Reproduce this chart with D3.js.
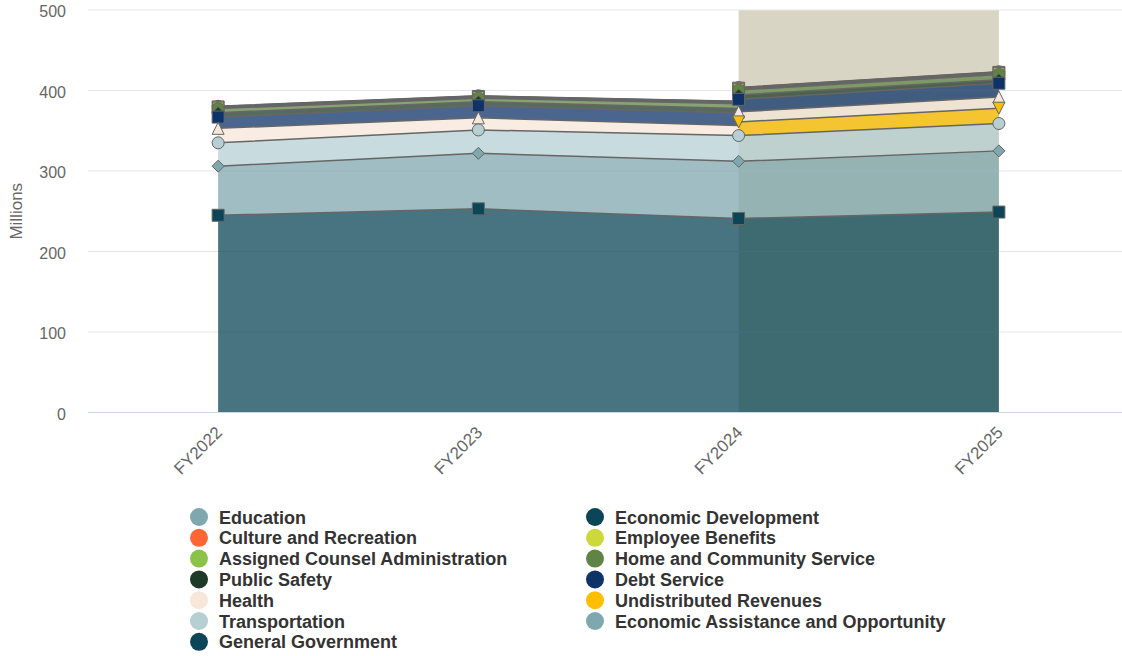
<!DOCTYPE html>
<html>
<head>
<meta charset="utf-8">
<script src="https://cdn.jsdelivr.net/npm/d3@7"></script>
<style>
  body { margin: 0; background: #ffffff; }
  svg { display: block; font-family: "Liberation Sans", Arial, Helvetica, sans-serif; }
</style>
</head>
<body>
<svg id="chart" width="1122" height="656"></svg>
<script>
// Fiscal years on the category axis
const years = ["FY2022", "FY2023", "FY2024", "FY2025"];

// Appropriations by function, millions of dollars (null = no budget line that year)
const education            = [0.3, 0.3, 0.3, 0.3];
const economicDevelopment  = [0.5, 0.5, 0.5, 0.5];
const cultureRecreation    = [1.0, 1.0, 1.2, 1.2];
const employeeBenefits     = [0.3, 0.3, 0.3, 0.3];
const assignedCounsel      = [0.8, 0.8, 0.9, 1.0];
const homeCommunity        = [5.0, 4.5, 6.0, 6.5];
const publicSafety         = [5.5, 5.0, 5.5, 4.5];
const debtService          = [14, 15, 15.5, 17];
const health               = [18, 15, 12.5, 14];
const undistributedRevenue = [null, null, 17, 19];
const transportation       = [29, 29, 32, 34];
const economicAssistance   = [61, 69, 71, 76];
const generalGovernment    = [245, 253, 241, 249];

const seriesNames = [
  "Education", "Economic Development", "Culture and Recreation", "Employee Benefits",
  "Assigned Counsel Administration", "Home and Community Service", "Public Safety",
  "Debt Service", "Health", "Undistributed Revenues", "Transportation",
  "Economic Assistance and Opportunity", "General Government"
];
const seriesValues = [
  education, economicDevelopment, cultureRecreation, employeeBenefits,
  assignedCounsel, homeCommunity, publicSafety, debtService, health,
  undistributedRevenue, transportation, economicAssistance, generalGovernment
];
const seriesColors = [
  "#7fa7ae", "#0b4557", "#ff6633", "#cdd83a", "#8bc34a", "#5f8445", "#1f3a27",
  "#0d3368", "#f7e7d9", "#ffbf00", "#b5cfd3", "#7fa7ae", "#0b4557"
];
const markerSymbols = ["circle", "diamond", "square", "triangle", "triangle-down"];

const yTicks = [0, 100, 200, 300, 400, 500];
const projectedRange = ["FY2024", "FY2025"];

// ---- layout ----
const svg = d3.select("#chart");
const plotLeft = 88, plotRight = 1122, plotTop = 10, plotBottom = 412.5;

const x = d3.scalePoint().domain(years).range([plotLeft, 1129]).padding(0.5);
const y = d3.scaleLinear().domain([0, 500]).range([plotBottom, plotTop]);

// projected-years band
svg.append("rect")
  .attr("x", x(projectedRange[0]))
  .attr("y", plotTop)
  .attr("width", x(projectedRange[1]) - x(projectedRange[0]))
  .attr("height", plotBottom - plotTop)
  .attr("fill", "#d8d5c4");

// horizontal grid
svg.append("g").selectAll("line").data(yTicks.filter(d => d > 0)).join("line")
  .attr("x1", plotLeft).attr("x2", plotRight)
  .attr("y1", d => y(d)).attr("y2", d => y(d))
  .attr("stroke", "#e6e6e6").attr("stroke-width", 1);

// ---- stacking (first series on top), with cliffs where a lower series is missing ----
const n = seriesValues.length;
const stackOrder = d3.range(n - 1, -1, -1); // bottom -> top
const base = seriesValues.map(() => years.map(() => 0));
const topV = seriesValues.map(() => years.map(() => 0));
years.forEach((yr, j) => {
  let cum = 0;
  stackOrder.forEach(s => {
    const v = seriesValues[s][j];
    base[s][j] = cum;
    if (v !== null) cum += v;
    topV[s][j] = cum;
  });
});

function cliffFor(s, j, k) {
  // sum of lower series present at j but missing at neighbour k
  let c = 0;
  const pos = stackOrder.indexOf(s);
  for (let p = 0; p < pos; p++) {
    const t = stackOrder[p];
    if (seriesValues[t][j] !== null && seriesValues[t][k] === null) c -= seriesValues[t][j];
  }
  return c;
}

function edgePoint(s, j, k, px, topPts, botPts) {
  if (k < 0 || k >= years.length) return;
  const isNull = seriesValues[s][k] === null;
  const cliff = cliffFor(s, j, k);
  if (isNull || cliff) {
    topPts.push({ x: px, v: (isNull ? base[s][j] : topV[s][j]) + cliff, gap: isNull });
    botPts.push({ x: px, v: base[s][j] + cliff });
  }
}

const layers = seriesValues.map((vals, s) => {
  const topPts = [], botPts = [];
  years.forEach((yr, j) => {
    if (vals[j] === null) return;
    const px = x(yr);
    edgePoint(s, j, j - 1, px, topPts, botPts);
    topPts.push({ x: px, v: topV[s][j], gap: false, real: true });
    botPts.push({ x: px, v: base[s][j] });
    edgePoint(s, j, j + 1, px, topPts, botPts);
  });
  return { s, topPts, botPts };
});

const areaGroup = svg.append("g");
layers.forEach(L => {
  const poly = L.topPts.map(p => [p.x, y(p.v)])
    .concat(L.botPts.slice().reverse().map(p => [p.x, y(p.v)]));
  areaGroup.append("path")
    .attr("d", d3.line()(poly) + "Z")
    .attr("fill", seriesColors[L.s])
    .attr("fill-opacity", 0.75)
    .attr("stroke", "none");
  const linePts = L.topPts.filter(p => !p.gap).map(p => [p.x, y(p.v)]);
  areaGroup.append("path")
    .attr("d", d3.line()(linePts))
    .attr("fill", "none")
    .attr("stroke", "#666666")
    .attr("stroke-width", 1.5)
    .attr("stroke-linejoin", "round");
});

// axis line at zero
svg.append("line")
  .attr("x1", plotLeft).attr("x2", plotRight)
  .attr("y1", y(0)).attr("y2", y(0))
  .attr("stroke", "#ccd6eb").attr("stroke-width", 1);

// ---- markers ----
function symbolPath(type, cx, cy, r) {
  const x0 = cx - r, y0 = cy - r, w = 2 * r, h = 2 * r;
  switch (type) {
    case "square": return `M${x0},${y0}H${x0 + w}V${y0 + h}H${x0}Z`;
    case "diamond": return `M${cx},${y0}L${x0 + w},${cy}L${cx},${y0 + h}L${x0},${cy}Z`;
    case "triangle": return `M${cx},${y0}L${x0 + w},${y0 + h}L${x0},${y0 + h}Z`;
    case "triangle-down": return `M${x0},${y0}L${x0 + w},${y0}L${cx},${y0 + h}Z`;
    default: return `M${cx - r},${cy}A${r},${r} 0 1,0 ${cx + r},${cy}A${r},${r} 0 1,0 ${cx - r},${cy}Z`;
  }
}
const markerGroup = svg.append("g");
layers.forEach(L => {
  const sym = markerSymbols[L.s % markerSymbols.length];
  L.topPts.filter(p => p.real).forEach(p => {
    markerGroup.append("path")
      .attr("d", symbolPath(sym, p.x, y(p.v), 6))
      .attr("fill", seriesColors[L.s])
      .attr("stroke", "#666666")
      .attr("stroke-width", 1);
  });
});

// ---- y axis labels and title ----
svg.append("g").selectAll("text").data(yTicks).join("text")
  .attr("x", 66).attr("y", d => y(d) + 7)
  .attr("text-anchor", "end")
  .attr("font-size", "16px").attr("fill", "#666666")
  .text(d => d);

svg.append("text")
  .attr("transform", `translate(22,${(plotTop + plotBottom) / 2}) rotate(-90)`)
  .attr("text-anchor", "middle")
  .attr("font-size", "17px").attr("fill", "#666666")
  .text("Millions");

// ---- x axis labels ----
svg.append("g").selectAll("text").data(years).join("text")
  .attr("transform", d => `translate(${x(d) + 5},${plotBottom + 21}) rotate(-45)`)
  .attr("text-anchor", "end")
  .attr("font-size", "17px").attr("fill", "#666666")
  .text(d => d);

// ---- legend ----
const legend = svg.append("g");
seriesNames.forEach((name, i) => {
  const col = i % 2, row = Math.floor(i / 2);
  const cx = col === 0 ? 199 : 595;
  const cy = 517 + row * 20.8;
  legend.append("circle").attr("cx", cx).attr("cy", cy).attr("r", 9)
    .attr("fill", seriesColors[i]);
  legend.append("text")
    .attr("x", cx + 20).attr("y", cy + 6.5)
    .attr("font-size", "18px").attr("font-weight", "bold").attr("fill", "#333333")
    .text(name);
});
</script>
</body>
</html>
